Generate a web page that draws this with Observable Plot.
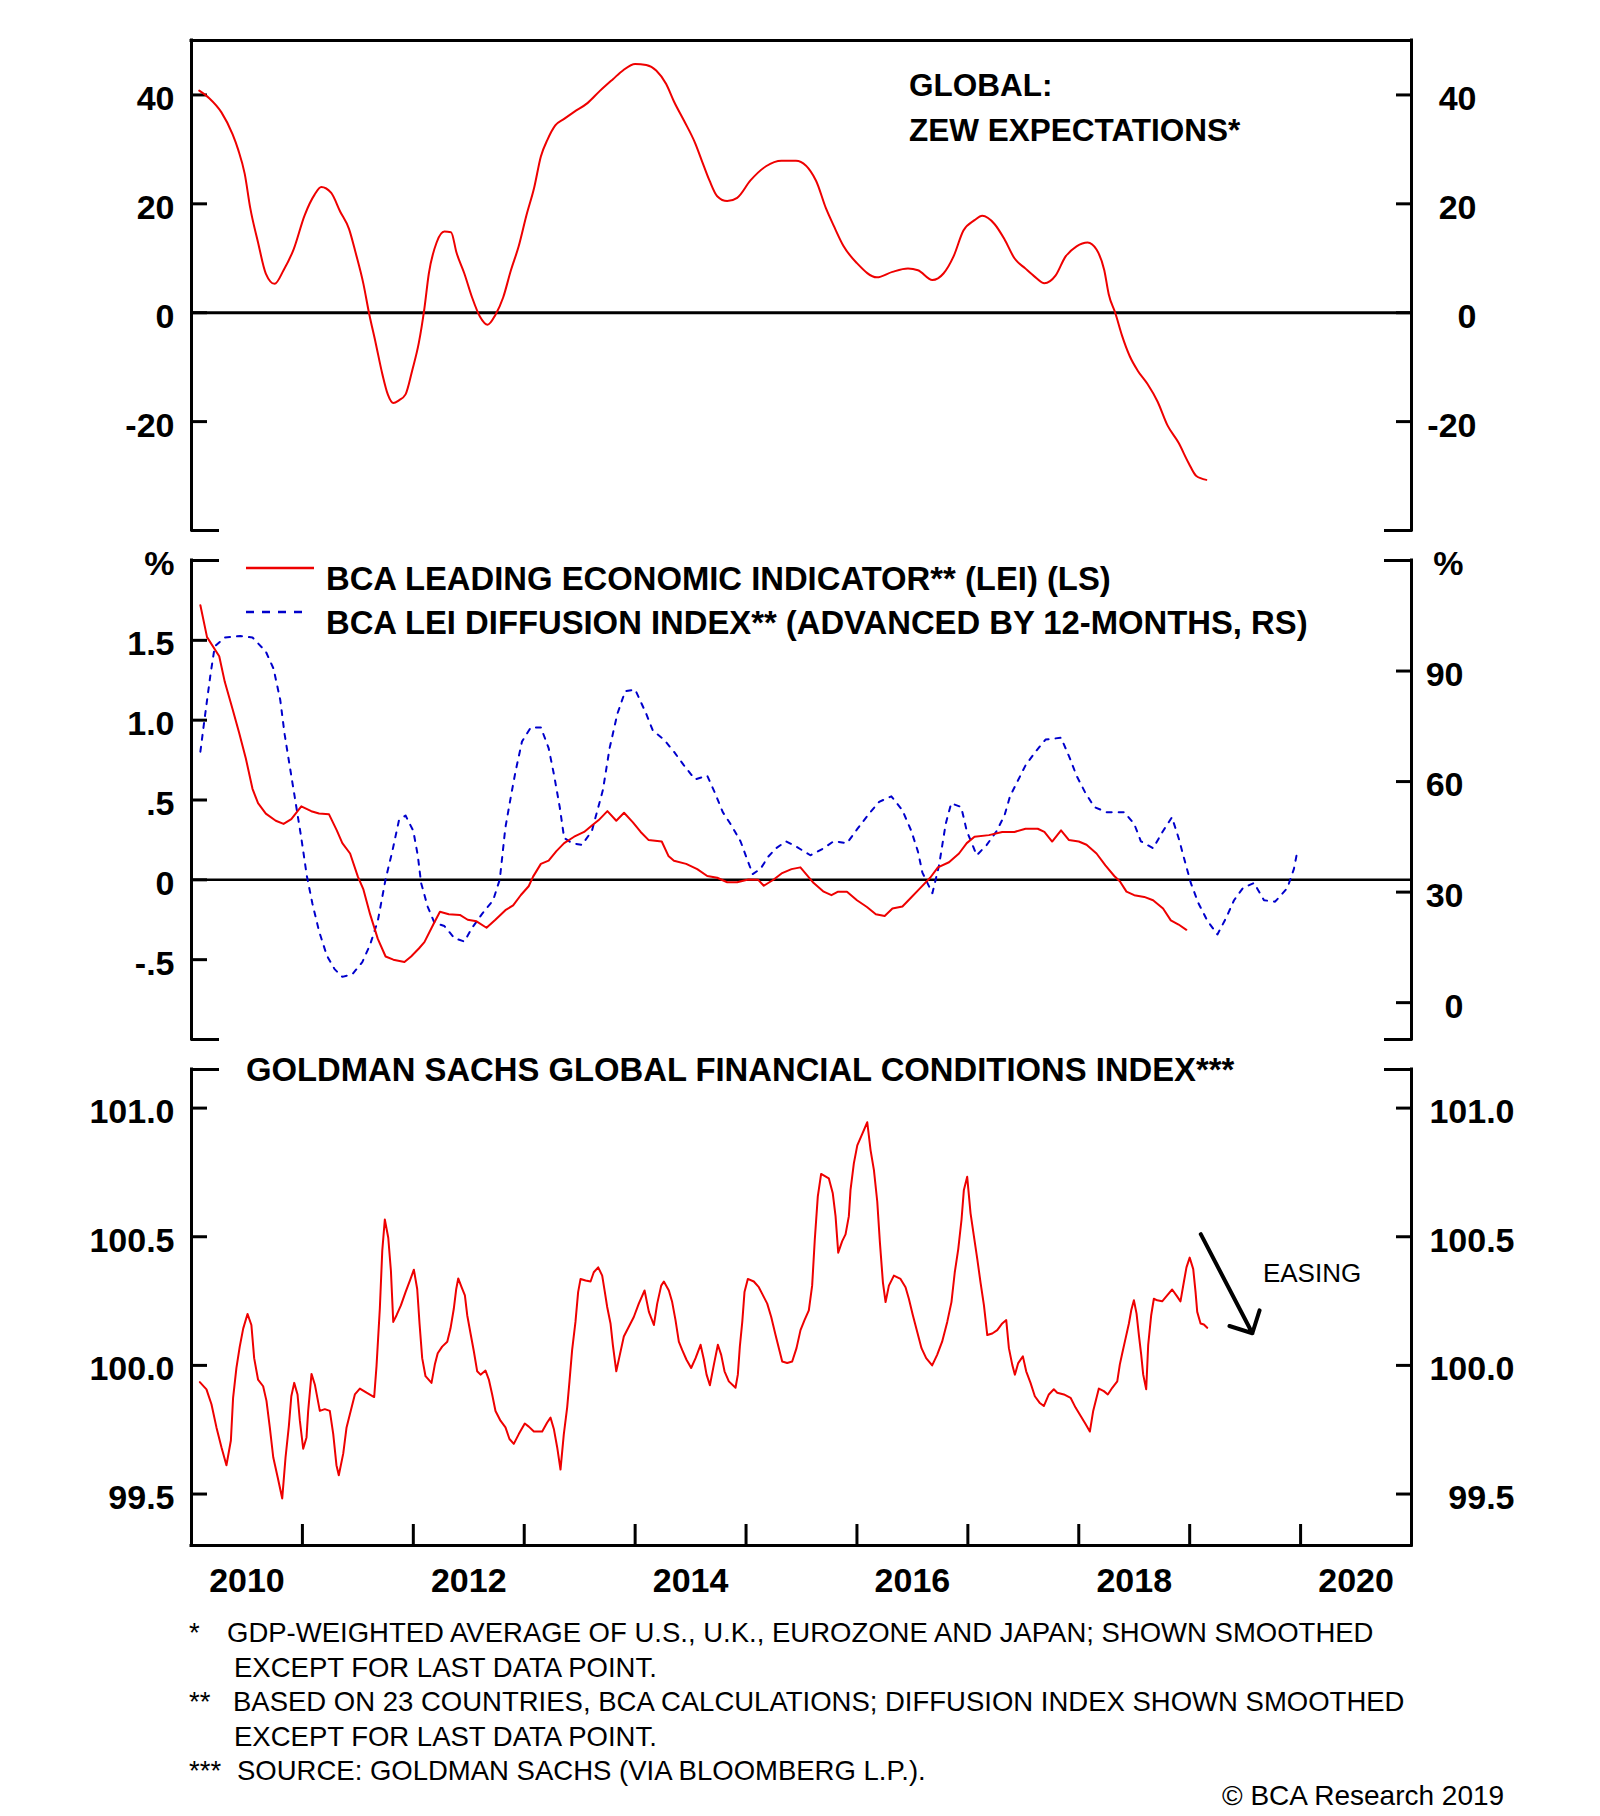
<!DOCTYPE html>
<html>
<head>
<meta charset="utf-8">
<script src="https://cdn.jsdelivr.net/npm/d3@7"></script>
<script src="https://cdn.jsdelivr.net/npm/@observablehq/plot@0.6"></script>
<style>
  html, body { margin: 0; padding: 0; background: #fff; }
  #wrap { position: relative; width: 1600px; height: 1816px; overflow: hidden; background: #fff; }
  #wrap > svg, #wrap > figure { position: absolute; left: 0; margin: 0; }
</style>
</head>
<body>
<div id="wrap"></div>
<script>
// ---------------- DATA ----------------
const xDomain = [2010, 2021];
const yearTicks = [2011, 2012, 2013, 2014, 2015, 2016, 2017, 2018, 2019, 2020];
const yearLabels = ["2010", "2012", "2014", "2016", "2018", "2020"];

// Panel 1: Global ZEW expectations
const zewTitle = ["GLOBAL:", "ZEW EXPECTATIONS*"];
const zewDomain = [-40, 50];
const zewTicks = [40, 20, 0, -20];
const zewTickLabels = ["40", "20", "0", "-20"];
const zew = [
  [2010.07,40.8],[2010.16,39.4],[2010.27,36.8],[2010.37,32.8],[2010.42,30],[2010.48,25.5],[2010.53,19.2],[2010.60,12.9],[2010.67,7.2],[2010.75,5.3],
  [2010.83,7.8],[2010.92,11.6],[2011.02,17.9],[2011.11,21.7],[2011.17,23.1],[2011.26,22],[2011.34,18.6],[2011.42,15.4],[2011.48,11],[2011.55,5.3],
  [2011.60,0],[2011.66,-5.5],[2011.72,-11.2],[2011.77,-15],[2011.82,-16.6],[2011.87,-16.1],[2011.93,-15],[2011.99,-10.6],[2012.05,-5.5],[2012.10,0.8],
  [2012.14,7.2],[2012.21,12.9],[2012.28,14.9],[2012.34,14.8],[2012.39,11],[2012.46,7.2],[2012.53,2.8],[2012.60,-0.7],[2012.67,-2.2],[2012.74,-0.4],
  [2012.81,2.8],[2012.88,7.8],[2012.95,12.2],[2013.02,17.9],[2013.09,23],[2013.15,28.7],[2013.21,31.8],[2013.28,34.4],[2013.36,35.6],[2013.45,36.9],
  [2013.57,38.5],[2013.68,40.7],[2013.80,42.9],[2013.89,44.5],[2014.00,45.7],[2014.10,45.5],[2014.19,44.5],[2014.28,42],[2014.35,38.8],[2014.44,35.3],
  [2014.54,31.2],[2014.60,28],[2014.67,24.3],[2014.74,21.4],[2014.83,20.5],[2014.92,21.1],[2015.04,24.3],[2015.18,26.9],[2015.32,27.9],[2015.45,27.9],
  [2015.63,24.3],[2015.72,19.2],[2015.79,16],[2015.88,12.2],[2016.00,9.1],[2016.18,6.5],[2016.32,7.5],[2016.46,8.1],[2016.55,7.8],[2016.68,6],
  [2016.78,7.2],[2016.87,10.3],[2016.96,15.1],[2017.06,17],[2017.13,17.8],[2017.24,16.3],[2017.33,13.5],[2017.42,10],[2017.52,8.1],[2017.61,6.5],
  [2017.69,5.4],[2017.79,6.8],[2017.88,10.3],[2017.98,12.2],[2018.08,12.9],[2018.16,11.6],[2018.23,7.8],[2018.27,3.4],[2018.33,-0.1],[2018.39,-4.2],
  [2018.46,-8],[2018.53,-10.6],[2018.62,-13.1],[2018.71,-16.3],[2018.80,-20.7],[2018.90,-23.9],[2018.99,-27.6],[2019.06,-30],[2019.15,-30.7]
];

// Panel 2: BCA LEI (left scale) and diffusion index (right scale)
const legendLabels = [
  "BCA LEADING ECONOMIC INDICATOR** (LEI) (LS)",
  "BCA LEI DIFFUSION INDEX** (ADVANCED BY 12-MONTHS, RS)"
];
const unitLabel = "%";
const leiDomain = [-1, 2];
const leiTicks = [1.5, 1.0, 0.5, 0, -0.5];
const leiTickLabels = ["1.5", "1.0", ".5", "0", "-.5"];
const diffDomain = [-10, 120];
const diffTicks = [90, 60, 30, 0];
const diffTickLabels = ["90", "60", "30", "0"];
const lei = [
  [2010.08,1.72],[2010.14,1.52],[2010.25,1.40],[2010.30,1.24],[2010.37,1.07],[2010.43,0.92],[2010.49,0.76],[2010.55,0.57],[2010.60,0.48],[2010.67,0.415],
  [2010.76,0.37],[2010.83,0.35],[2010.90,0.38],[2010.99,0.46],[2011.08,0.43],[2011.15,0.415],[2011.24,0.41],[2011.31,0.31],[2011.36,0.23],[2011.43,0.165],
  [2011.50,0.02],[2011.55,-0.06],[2011.61,-0.215],[2011.68,-0.37],[2011.75,-0.48],[2011.82,-0.50],[2011.92,-0.515],[2011.98,-0.48],[2012.05,-0.43],[2012.10,-0.39],
  [2012.18,-0.28],[2012.24,-0.20],[2012.32,-0.215],[2012.42,-0.22],[2012.49,-0.25],[2012.57,-0.26],[2012.66,-0.30],[2012.74,-0.25],[2012.83,-0.19],[2012.90,-0.16],
  [2012.97,-0.095],[2013.04,-0.04],[2013.08,0.02],[2013.15,0.10],[2013.22,0.12],[2013.29,0.18],[2013.36,0.23],[2013.45,0.27],[2013.54,0.30],[2013.61,0.34],
  [2013.68,0.38],[2013.75,0.43],[2013.83,0.37],[2013.90,0.42],[2013.98,0.36],[2014.05,0.30],[2014.12,0.25],[2014.24,0.24],[2014.30,0.15],[2014.35,0.12],
  [2014.46,0.10],[2014.56,0.067],[2014.65,0.024],[2014.74,0.013],[2014.83,-0.015],[2014.92,-0.015],[2015.02,0.002],[2015.11,0],[2015.16,-0.037],[2015.25,0.002],
  [2015.32,0.04],[2015.41,0.067],[2015.49,0.078],[2015.61,-0.02],[2015.70,-0.074],[2015.77,-0.096],[2015.83,-0.074],[2015.91,-0.074],[2016.00,-0.128],[2016.09,-0.17],
  [2016.17,-0.215],[2016.25,-0.226],[2016.32,-0.18],[2016.41,-0.167],[2016.48,-0.117],[2016.57,-0.052],[2016.66,0.013],[2016.73,0.078],[2016.83,0.11],[2016.92,0.165],
  [2016.99,0.23],[2017.06,0.27],[2017.19,0.28],[2017.31,0.30],[2017.42,0.30],[2017.52,0.32],[2017.63,0.32],[2017.69,0.30],[2017.76,0.24],[2017.84,0.31],
  [2017.91,0.25],[2018.00,0.24],[2018.07,0.22],[2018.16,0.165],[2018.24,0.09],[2018.32,0.024],[2018.37,-0.009],[2018.43,-0.074],[2018.50,-0.096],[2018.59,-0.107],
  [2018.67,-0.128],[2018.76,-0.18],[2018.83,-0.254],[2018.90,-0.28],[2018.97,-0.313]
];
const diffusion = [
  [2010.08,68.1],[2010.12,77.5],[2010.17,88.8],[2010.21,96.7],[2010.30,99.1],[2010.44,99.5],[2010.55,99.1],[2010.67,95.3],[2010.74,90.6],[2010.80,82.2],
  [2010.84,72.8],[2010.89,63.4],[2010.94,54.1],[2010.99,44.7],[2011.04,34.4],[2011.09,26.9],[2011.15,19.4],[2011.22,12.8],[2011.29,9.1],[2011.36,7.0],
  [2011.45,7.7],[2011.54,11],[2011.61,15.7],[2011.68,22.2],[2011.75,33.5],[2011.81,41],[2011.87,49.4],[2011.93,50.8],[2012.00,46.6],[2012.04,40],
  [2012.07,32.5],[2012.13,26],[2012.19,21.7],[2012.28,20.8],[2012.37,17.5],[2012.46,16.6],[2012.53,20.3],[2012.62,24.1],[2012.72,27.8],[2012.78,33.5],
  [2012.83,47.5],[2012.88,56],[2012.92,62.5],[2012.98,70.9],[2013.06,74.7],[2013.15,74.7],[2013.22,69.1],[2013.27,61.6],[2013.32,53.1],[2013.36,44.7],
  [2013.43,43.3],[2013.52,42.8],[2013.61,46.6],[2013.71,57.8],[2013.77,69.1],[2013.84,78.4],[2013.91,84.5],[2014.00,85],[2014.10,78.4],[2014.16,73.8],
  [2014.26,71.4],[2014.35,68.1],[2014.44,64.4],[2014.54,60.6],[2014.65,61.6],[2014.72,56.9],[2014.79,51.7],[2014.86,48.5],[2014.95,43.8],[2015.02,38.1],
  [2015.06,34.9],[2015.13,36.3],[2015.20,39.6],[2015.27,41.9],[2015.36,43.8],[2015.45,42.4],[2015.58,40],[2015.70,41.9],[2015.79,43.8],[2015.91,43.3],
  [2016.00,47],[2016.11,51.3],[2016.20,54.5],[2016.31,56],[2016.41,52.2],[2016.49,46.6],[2016.55,41],[2016.59,35.3],[2016.68,29.7],[2016.74,37.2],
  [2016.80,48.5],[2016.85,54.1],[2016.94,53.1],[2016.99,46.6],[2017.08,40],[2017.17,42.8],[2017.26,46.6],[2017.33,50.8],[2017.38,56],[2017.45,60.2],
  [2017.52,64.4],[2017.61,68.1],[2017.70,71.4],[2017.84,71.9],[2017.92,66.3],[2017.98,61.6],[2018.06,56.9],[2018.14,53.1],[2018.25,51.7],[2018.41,51.7],
  [2018.50,48.5],[2018.56,43.8],[2018.67,41.9],[2018.76,46.6],[2018.84,50.3],[2018.90,44.7],[2018.95,39.1],[2019.01,32.5],[2019.08,26.9],[2019.16,22.2],
  [2019.25,18.5],[2019.33,23.1],[2019.40,27.8],[2019.48,31.1],[2019.58,32.5],[2019.67,27.8],[2019.77,27.4],[2019.88,31.1],[2019.94,36.3],[2019.97,41]
];

// Panel 3: Goldman Sachs global financial conditions index
const gsTitle = "GOLDMAN SACHS GLOBAL FINANCIAL CONDITIONS INDEX***";
const gsDomain = [99.3, 101.15];
const gsTicks = [101.0, 100.5, 100.0, 99.5];
const gsTickLabels = ["101.0", "100.5", "100.0", "99.5"];
const gsFci = [
  [2010.075,99.935],[2010.135,99.907],[2010.18,99.849],[2010.225,99.759],[2010.27,99.682],[2010.315,99.612],[2010.355,99.708],[2010.375,99.874],[2010.405,99.99],[2010.435,100.073],
  [2010.466,100.143],[2010.505,100.2],[2010.54,100.157],[2010.565,100.028],[2010.60,99.945],[2010.646,99.919],[2010.676,99.862],[2010.706,99.759],[2010.737,99.643],[2010.776,99.567],
  [2010.818,99.483],[2010.848,99.643],[2010.878,99.765],[2010.90,99.88],[2010.926,99.932],[2010.956,99.887],[2010.977,99.785],[2011.007,99.676],[2011.037,99.72],[2011.052,99.823],
  [2011.082,99.967],[2011.112,99.926],[2011.157,99.823],[2011.202,99.83],[2011.247,99.823],[2011.278,99.733],[2011.307,99.612],[2011.328,99.573],[2011.368,99.657],[2011.398,99.759],
  [2011.428,99.81],[2011.473,99.887],[2011.518,99.91],[2011.578,99.894],[2011.647,99.877],[2011.668,99.996],[2011.698,100.22],[2011.72,100.445],[2011.743,100.567],[2011.774,100.496],
  [2011.798,100.368],[2011.819,100.169],[2011.849,100.195],[2011.888,100.233],[2011.93,100.285],[2011.975,100.336],[2012.005,100.372],[2012.035,100.297],[2012.056,100.163],[2012.08,100.028],
  [2012.11,99.958],[2012.164,99.932],[2012.194,100.003],[2012.22,100.047],[2012.26,100.073],[2012.306,100.092],[2012.335,100.143],[2012.365,100.22],[2012.387,100.297],[2012.405,100.338],
  [2012.435,100.304],[2012.465,100.272],[2012.486,100.195],[2012.516,100.124],[2012.546,100.054],[2012.576,99.977],[2012.606,99.964],[2012.651,99.98],[2012.681,99.945],[2012.711,99.887],
  [2012.741,99.823],[2012.786,99.785],[2012.831,99.759],[2012.867,99.714],[2012.906,99.695],[2012.951,99.733],[2013.005,99.774],[2013.041,99.762],[2013.087,99.743],[2013.162,99.743],
  [2013.207,99.778],[2013.237,99.797],[2013.267,99.753],[2013.297,99.682],[2013.327,99.595],[2013.357,99.733],[2013.387,99.836],[2013.408,99.938],[2013.432,100.06],[2013.462,100.169],
  [2013.486,100.285],[2013.508,100.336],[2013.553,100.33],[2013.598,100.326],[2013.627,100.362],[2013.667,100.381],[2013.703,100.349],[2013.727,100.285],[2013.748,100.227],[2013.778,100.163],
  [2013.799,100.08],[2013.83,99.977],[2013.859,100.035],[2013.898,100.112],[2013.943,100.15],[2013.988,100.188],[2014.033,100.24],[2014.085,100.291],[2014.124,100.208],[2014.169,100.157],
  [2014.199,100.24],[2014.235,100.31],[2014.259,100.326],[2014.304,100.291],[2014.334,100.246],[2014.364,100.176],[2014.394,100.092],[2014.424,100.06],[2014.463,100.022],[2014.505,99.99],
  [2014.545,100.028],[2014.59,100.08],[2014.62,100.022],[2014.644,99.964],[2014.674,99.923],[2014.71,100.003],[2014.746,100.08],[2014.776,100.041],[2014.806,99.977],[2014.845,99.938],
  [2014.905,99.913],[2014.926,99.964],[2014.944,100.073],[2014.966,100.169],[2014.986,100.285],[2015.016,100.336],[2015.07,100.326],[2015.115,100.304],[2015.146,100.278],[2015.191,100.24],
  [2015.227,100.188],[2015.266,100.118],[2015.296,100.067],[2015.326,100.015],[2015.371,100.009],[2015.416,100.015],[2015.455,100.067],[2015.491,100.137],[2015.527,100.176],[2015.566,100.214],
  [2015.596,100.31],[2015.62,100.49],[2015.647,100.657],[2015.677,100.744],[2015.746,100.727],[2015.782,100.669],[2015.807,100.58],[2015.831,100.438],[2015.867,100.483],[2015.897,100.509],
  [2015.927,100.58],[2015.942,100.682],[2015.972,100.785],[2016.003,100.855],[2016.048,100.9],[2016.093,100.945],[2016.123,100.836],[2016.153,100.759],[2016.183,100.637],[2016.207,100.477],
  [2016.234,100.323],[2016.258,100.246],[2016.288,100.31],[2016.333,100.349],[2016.393,100.336],[2016.438,100.304],[2016.468,100.259],[2016.504,100.195],[2016.543,100.131],[2016.582,100.067],
  [2016.624,100.028],[2016.678,100.0],[2016.723,100.041],[2016.768,100.092],[2016.814,100.169],[2016.852,100.246],[2016.882,100.362],[2016.913,100.451],[2016.943,100.567],[2016.964,100.682],
  [2016.994,100.733],[2017.024,100.592],[2017.054,100.503],[2017.085,100.413],[2017.114,100.323],[2017.145,100.233],[2017.175,100.118],[2017.22,100.124],[2017.265,100.137],[2017.31,100.163],
  [2017.346,100.176],[2017.37,100.067],[2017.4,100.003],[2017.424,99.964],[2017.454,100.009],[2017.496,100.035],[2017.526,99.977],[2017.565,99.932],[2017.604,99.88],[2017.646,99.855],
  [2017.685,99.842],[2017.73,99.887],[2017.775,99.907],[2017.806,99.894],[2017.866,99.887],[2017.926,99.874],[2017.971,99.836],[2018.016,99.804],[2018.061,99.772],[2018.1,99.743],
  [2018.13,99.823],[2018.16,99.874],[2018.181,99.91],[2018.226,99.9],[2018.262,99.887],[2018.302,99.913],[2018.347,99.938],[2018.37,100.003],[2018.392,100.047],[2018.422,100.105],
  [2018.452,100.163],[2018.473,100.214],[2018.497,100.253],[2018.521,100.201],[2018.542,100.118],[2018.563,100.041],[2018.581,99.964],[2018.608,99.907],[2018.626,100.08],[2018.653,100.195],
  [2018.677,100.259],[2018.707,100.253],[2018.752,100.249],[2018.797,100.272],[2018.842,100.295],[2018.88,100.272],[2018.917,100.249],[2018.947,100.323],[2018.971,100.381],[2019.0,100.419],
  [2019.032,100.374],[2019.053,100.285],[2019.068,100.208],[2019.098,100.163],[2019.128,100.159],[2019.158,100.146]
];
const easingArrow = [{x1: 2019.10, y1: 100.51, x2: 2019.565, y2: 100.125}];
const easingLabel = [{x: 2019.66, y: 100.358, text: "EASING"}];

// Footnotes
const footnoteMarks = ["*", "**", "***"];
const footnoteLines = [
  "GDP-WEIGHTED AVERAGE OF U.S., U.K., EUROZONE AND JAPAN; SHOWN SMOOTHED",
  "EXCEPT FOR LAST DATA POINT.",
  "BASED ON 23 COUNTRIES, BCA CALCULATIONS; DIFFUSION INDEX SHOWN SMOOTHED",
  "EXCEPT FOR LAST DATA POINT.",
  "SOURCE: GOLDMAN SACHS (VIA BLOOMBERG L.P.)."
];
const copyright = "\u00A9 BCA Research 2019";

// ---------------- STYLE ----------------
const FONT = '"Liberation Sans", Arial, Helvetica, sans-serif';
const RED = "#ee0000";
const BLUE = "#0000cc";
const W = 1600, ML = 191, MR = 189;
const FRAME = 3;

function labelMap(ticks, labels) { return new Map(ticks.map((t, i) => [t, labels[i]])); }

// side axis: inward ticks, long corner ticks, right-aligned bold labels
function sideAxis(side, ticks, cornerVals, labelTicks, labelFn, pad) {
  return [
    Plot.axisY(ticks, {anchor: side, tickSize: -16, strokeWidth: FRAME, tickFormat: () => "", label: null}),
    Plot.axisY(cornerVals, {anchor: side, tickSize: -28, strokeWidth: FRAME, tickFormat: () => "", label: null}),
    Plot.axisY(labelTicks, {anchor: side, tickSize: 0, tickPadding: pad, textAnchor: "end", dy: 4,
      fontSize: 34, fontWeight: "bold", fill: "#000", tickFormat: labelFn, label: null})
  ];
}

const baseStyle = {fontFamily: FONT, background: "none", overflow: "visible", color: "#000"};
const wrap = document.getElementById("wrap");

function place(node, top) {
  node.style.position = "absolute";
  node.style.top = top + "px";
  node.style.left = "0px";
  wrap.appendChild(node);
}

// ---------------- PANEL 1 ----------------
const zewMap = labelMap(zewTicks, zewTickLabels);
const p1 = Plot.plot({
  width: W, height: 545, marginLeft: ML, marginRight: MR, marginTop: 40, marginBottom: 15,
  style: baseStyle,
  x: {type: "linear", domain: xDomain, axis: null},
  y: {domain: zewDomain},
  marks: [
    Plot.ruleX(xDomain, {strokeWidth: FRAME, strokeLinecap: "square"}),
    Plot.ruleY([zewDomain[1]], {strokeWidth: FRAME, strokeLinecap: "square"}),
    Plot.ruleY([0], {strokeWidth: FRAME}),
    ...sideAxis("left", zewTicks, [zewDomain[0]], zewTicks, d => zewMap.get(d), 17),
    ...sideAxis("right", zewTicks, [zewDomain[0]], zewTicks, d => zewMap.get(d), 65),
    Plot.line(zew, {x: d => d[0], y: d => d[1], stroke: RED, strokeWidth: 2, curve: "monotone-x"})
  ]
});
place(p1, 0);

// ---------------- PANEL 2 ----------------
const toLeft = r => leiDomain[0] + (r - diffDomain[0]) * (leiDomain[1] - leiDomain[0]) / (diffDomain[1] - diffDomain[0]);
const leiMap = labelMap([...leiTicks, leiDomain[1]], [...leiTickLabels, unitLabel]);
const diffLeftTicks = diffTicks.map(toLeft);
const diffMap = labelMap([...diffLeftTicks, toLeft(diffDomain[1])], [...diffTickLabels, unitLabel]);
const p2 = Plot.plot({
  width: W, height: 524, marginLeft: ML, marginRight: MR, marginTop: 30, marginBottom: 15,
  style: baseStyle,
  x: {type: "linear", domain: xDomain, axis: null},
  y: {domain: leiDomain},
  marks: [
    Plot.ruleX(xDomain, {strokeWidth: FRAME, strokeLinecap: "square"}),
    Plot.ruleY([0], {strokeWidth: 2.5}),
    ...sideAxis("left", leiTicks, leiDomain, [...leiTicks, leiDomain[1]], d => leiMap.get(d), 17),
    ...sideAxis("right", diffLeftTicks, leiDomain, [...diffLeftTicks, toLeft(diffDomain[1])], d => diffMap.get(d), 52),
    Plot.line(diffusion, {x: d => d[0], y: d => toLeft(d[1]), stroke: BLUE, strokeWidth: 2, strokeDasharray: "5,7"}),
    Plot.line(lei, {x: d => d[0], y: d => d[1], stroke: RED, strokeWidth: 2, strokeLinejoin: "round"})
  ]
});
place(p2, 530);

// ---------------- PANEL 3 ----------------
const gsMap = labelMap(gsTicks, gsTickLabels);
const p3 = Plot.plot({
  width: W, height: 580, marginLeft: ML, marginRight: MR, marginTop: 29, marginBottom: 75,
  style: baseStyle,
  x: {type: "linear", domain: xDomain},
  y: {domain: gsDomain},
  marks: [
    Plot.ruleX(xDomain, {strokeWidth: FRAME, strokeLinecap: "square"}),
    Plot.ruleY([gsDomain[0]], {strokeWidth: FRAME, strokeLinecap: "square"}),
    ...sideAxis("left", gsTicks, [gsDomain[1]], gsTicks, d => gsMap.get(d), 17),
    ...sideAxis("right", gsTicks, [gsDomain[1]], gsTicks, d => gsMap.get(d), 103),
    Plot.axisX(yearTicks, {anchor: "bottom", tickSize: -21, strokeWidth: FRAME, tickFormat: () => "", label: null}),
    Plot.axisX(yearLabels.map(s => +s + 0.5), {anchor: "bottom", tickSize: 0, tickPadding: 22,
      fontSize: 34, fontWeight: "bold", fill: "#000", tickFormat: d => String(Math.floor(d)), label: null}),
    Plot.line(gsFci, {x: d => d[0], y: d => d[1], stroke: RED, strokeWidth: 2}),
    Plot.arrow(easingArrow, {x1: "x1", y1: "y1", x2: "x2", y2: "y2", stroke: "#000", strokeWidth: 4,
      headLength: 9, headAngle: 90}),
    Plot.text(easingLabel, {x: "x", y: "y", text: "text", textAnchor: "start", fontSize: 26, fill: "#000"})
  ]
});
place(p3, 1040);

// ---------------- TEXT OVERLAY ----------------
const ov = d3.create("svg").attr("width", W).attr("height", 1816)
  .style("position", "absolute").style("left", "0px").style("top", "0px")
  .style("pointer-events", "none").style("font-family", FONT);

function txt(x, y, s, size, weight) {
  ov.append("text").attr("x", x).attr("y", y).attr("font-size", size)
    .attr("font-weight", weight || "normal").attr("fill", "#000").text(s);
}

// panel 1 title
txt(909, 96, zewTitle[0], 31.5, "bold");
txt(909, 140.5, zewTitle[1], 31.5, "bold");

// panel 2 legend
ov.append("line").attr("x1", 246).attr("x2", 314).attr("y1", 568).attr("y2", 568)
  .attr("stroke", RED).attr("stroke-width", 2.5);
ov.append("line").attr("x1", 246).attr("x2", 310).attr("y1", 612).attr("y2", 612)
  .attr("stroke", BLUE).attr("stroke-width", 2.5).attr("stroke-dasharray", "8,8");
txt(326, 590, legendLabels[0], 32.8, "bold");
txt(326, 634, legendLabels[1], 32.8, "bold");

// panel 3 title
txt(246, 1080.5, gsTitle, 32.8, "bold");

// footnotes
const FN = 27.5;
txt(189, 1642, footnoteMarks[0], FN);
txt(227, 1642, footnoteLines[0], FN);
txt(234, 1676.5, footnoteLines[1], FN);
txt(189, 1711, footnoteMarks[1], FN);
txt(233, 1711, footnoteLines[2], FN);
txt(234, 1746, footnoteLines[3], FN);
txt(189, 1780, footnoteMarks[2], FN);
txt(237, 1780, footnoteLines[4], FN);
txt(1222, 1805, copyright, 28);

wrap.appendChild(ov.node());
</script>
</body>
</html>
